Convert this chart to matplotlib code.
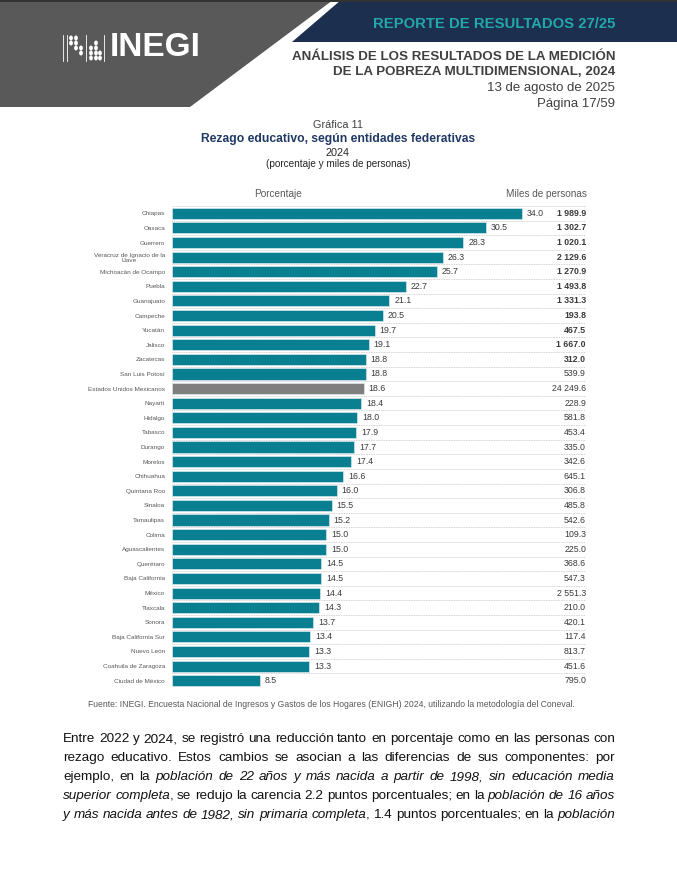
import matplotlib
matplotlib.use("Agg")
import matplotlib.pyplot as plt
from matplotlib.patches import Polygon, Circle
import numpy as np

plt.rcParams['font.family'] = ['Liberation Sans', 'DejaVu Sans']

# datos de la grafica
estados = ["Chiapas", "Oaxaca", "Guerrero", "Veracruz de Ignacio de la\nLlave",
           "Michoacán de Ocampo", "Puebla", "Guanajuato", "Campeche", "Yucatán",
           "Jalisco", "Zacatecas", "San Luis Potosí", "Estados Unidos Mexicanos",
           "Nayarit", "Hidalgo", "Tabasco", "Durango", "Morelos", "Chihuahua",
           "Quintana Roo", "Sinaloa", "Tamaulipas", "Colima", "Aguascalientes",
           "Querétaro", "Baja California", "México", "Tlaxcala", "Sonora",
           "Baja California Sur", "Nuevo León", "Coahuila de Zaragoza",
           "Ciudad de México"]
porcentaje = [34.0, 30.5, 28.3, 26.3, 25.7, 22.7, 21.1, 20.5, 19.7, 19.1, 18.8,
              18.8, 18.6, 18.4, 18.0, 17.9, 17.7, 17.4, 16.6, 16.0, 15.5, 15.2,
              15.0, 15.0, 14.5, 14.5, 14.4, 14.3, 13.7, 13.4, 13.3, 13.3, 8.5]
miles = [1989.9, 1302.7, 1020.1, 2129.6, 1270.9, 1493.8, 1331.3, 193.8, 467.5,
         1667.0, 312.0, 539.9, 24249.6, 228.9, 581.8, 453.4, 335.0, 342.6, 645.1,
         306.8, 485.8, 542.6, 109.3, 225.0, 368.6, 547.3, 2551.3, 210.0, 420.1,
         117.4, 813.7, 451.6, 795.0]
nacional = "Estados Unidos Mexicanos"

W, H = 677, 880
fig = plt.figure(figsize=(W/100, H/100), dpi=100)
fx = lambda x: x/W
fy = lambda y: 1 - y/H

# encabezado
def poly(pts, color):
    fig.patches.append(Polygon([(fx(a), fy(b)) for a, b in pts], closed=True,
                               transform=fig.transFigure, facecolor=color,
                               edgecolor='none'))

poly([(0, 0), (333, 0), (190, 107), (0, 107)], '#595959')
poly([(341, 0), (677, 0), (677, 42), (292, 42)], '#1d2f4f')
poly([(0, 0), (677, 0), (677, 2), (0, 2)], '#333333')

# logo
fig.text(fx(110), fy(48), "INEGI", color='white', fontsize=24, fontweight='bold',
         ha='left', va='center')
for lx in [63, 66.5, 86, 104]:
    fig.add_artist(plt.Line2D([fx(lx), fx(lx)], [fy(35), fy(61)],
                              transform=fig.transFigure, color='white', lw=0.6))
dots = [(71, 38), (71, 43), (76, 38), (76, 43), (76, 48), (81, 48), (81, 53),
        (91, 48), (91, 53), (91, 58), (96, 43), (96, 48), (96, 53), (96, 58),
        (100, 53), (100, 58)]
for dx, dy in dots:
    fig.patches.append(Circle((fx(dx), fy(dy)), 1.9/W, transform=fig.transFigure,
                              facecolor='white', edgecolor='none'))

fig.text(fx(615), fy(24), "REPORTE DE RESULTADOS 27/25", color='#22a7ab',
         fontsize=10.7, fontweight='bold', ha='right', va='center')
fig.text(fx(615), fy(57), "ANÁLISIS DE LOS RESULTADOS DE LA MEDICIÓN",
         color='#404040', fontsize=9.6, fontweight='bold', ha='right', va='center')
fig.text(fx(615), fy(72), "DE LA POBREZA MULTIDIMENSIONAL, 2024",
         color='#404040', fontsize=9.6, fontweight='bold', ha='right', va='center')
fig.text(fx(615), fy(88), "13 de agosto de 2025", color='#404040',
         fontsize=9.5, ha='right', va='center')
fig.text(fx(615), fy(104), "Página 17/59", color='#404040',
         fontsize=9.5, ha='right', va='center')

# titulos
fig.text(fx(338), fy(125), "Gráfica 11", color='#404040', fontsize=7.8,
         ha='center', va='center')
fig.text(fx(338), fy(139), "Rezago educativo, según entidades federativas",
         color='#1f3864', fontsize=8.7, fontweight='bold', ha='center', va='center')
fig.text(fx(338), fy(153), "2024", color='#262626', fontsize=7.8,
         ha='center', va='center')
fig.text(fx(338), fy(164), "(porcentaje y miles de personas)", color='#262626',
         fontsize=7.2, ha='center', va='center')
fig.text(fx(278), fy(194), "Porcentaje", color='#595959', fontsize=7.2,
         ha='center', va='center')
fig.text(fx(587), fy(194), "Miles de personas", color='#595959', fontsize=7.2,
         ha='right', va='center')

# grafica de barras
n = len(estados)
ax = fig.add_axes([fx(172), fy(688), 414/W, 482/H])
y = np.arange(n)
colores = ['#7f7f7f' if e == nacional else '#0b7f92' for e in estados]
ax.barh(y, porcentaje, height=0.76, color=colores, edgecolor='#e6f2f4', lw=0.4,
        zorder=3)
for g in np.arange(-0.5, n):
    ax.axhline(g, color='#c4c4c4', lw=0.6, ls=(0, (1, 1)), zorder=1)
for i, v in enumerate(porcentaje):
    ax.annotate(f"{v:.1f}", (v, i), xytext=(3.5, 0), textcoords='offset points',
                va='center', ha='left', fontsize=6.3, color='#3a3a3a')
for i, m in enumerate(miles):
    s = f"{m:,.1f}".replace(",", " ")
    ax.text(1.0, i, s, transform=ax.get_yaxis_transform(), ha='right',
            va='center', fontsize=6.3, color='#3a3a3a',
            fontweight='bold' if i < 11 else 'normal')
ax.set_xlim(0, 40.2)
ax.set_ylim(n - 0.5, -0.5)
ax.set_yticks(y)
ax.set_yticklabels(estados)
ax.tick_params(axis='y', length=0, pad=5, labelsize=4.6, labelcolor='#595959')
for lbl in ax.get_yticklabels():
    lbl.set_multialignment('center')
ax.set_xticks([])
for sp in ax.spines.values():
    sp.set_visible(False)

fig.text(fx(88), fy(704), "Fuente: INEGI. Encuesta Nacional de Ingresos y Gastos de los "
         "Hogares (ENIGH) 2024, utilizando la metodología del Coneval.",
         color='#595959', fontsize=6.2, ha='left', va='center')

# parrafo justificado
lineas = [
    "Entre 2022 y 2024, se registró una reducción tanto en porcentaje como en las personas con",
    "rezago educativo. Estos cambios se asocian a las diferencias de sus componentes: por",
    "ejemplo, en la *población de 22 años y más nacida a partir de 1998, sin educación media*",
    "*superior completa*, se redujo la carencia 2.2 puntos porcentuales; en la *población de 16 años*",
    "*y más nacida antes de 1982, sin primaria completa*, 1.4 puntos porcentuales; en la *población*",
]
baselines = [742, 761, 780, 799, 818]
x0, x1 = 63, 615
renderer = fig.canvas.get_renderer()

italic = False
for linea, yb in zip(lineas, baselines):
    palabras = []
    for w in linea.split(" "):
        piezas = []
        for k, parte in enumerate(w.split("*")):
            if k > 0:
                italic = not italic
            if parte:
                piezas.append((parte, italic))
        palabras.append(piezas)
    objs = []
    total = 0
    for piezas in palabras:
        grupo = []
        for txt, it in piezas:
            t = fig.text(0, fy(yb), txt, fontsize=9.7, color='#111111',
                         style='italic' if it else 'normal', ha='left', va='baseline')
            wpx = t.get_window_extent(renderer).width
            grupo.append((t, wpx))
            total += wpx
        objs.append(grupo)
    gap = (x1 - x0 - total) / (len(objs) - 1)
    x = x0
    for grupo in objs:
        for t, wpx in grupo:
            t.set_x(fx(x))
            x += wpx
        x += gap

fig.savefig("out.png", dpi=100)
